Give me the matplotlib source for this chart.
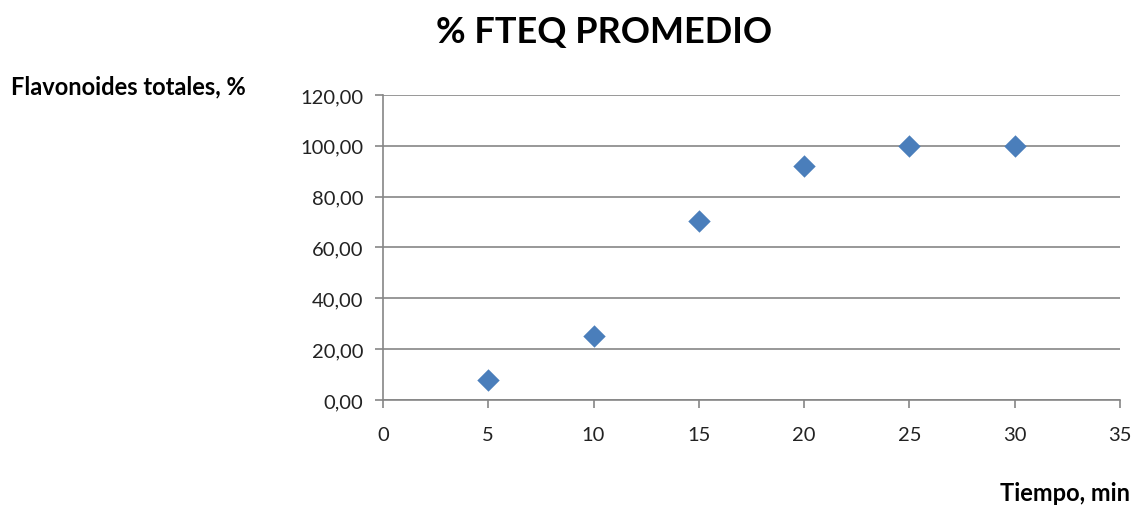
import matplotlib
matplotlib.use("Agg")
import matplotlib.pyplot as plt
from matplotlib.ticker import FuncFormatter

# Data
tiempo = [5, 10, 15, 20, 25, 30]
fteq = [8.0, 25.0, 70.5, 92.0, 100.0, 100.0]
y_ticks = [0, 20, 40, 60, 80, 100, 120]
x_ticks = [0, 5, 10, 15, 20, 25, 30, 35]

plt.rcParams['font.family'] = ['Lato', 'DejaVu Sans']

fig = plt.figure(figsize=(11.35, 5.06), dpi=100)
ax = fig.add_axes([0.3374, 0.2075, 0.6494, 0.6028])

ax.scatter(tiempo, fteq, marker="D", s=130, color="#4A7EBB", zorder=10,
           linewidths=0)

ax.set_xlim(0, 35)
ax.set_ylim(0, 120)
ax.set_xticks(x_ticks)
ax.set_yticks(y_ticks)
ax.yaxis.set_major_formatter(FuncFormatter(lambda v, p: "{0:.2f}".format(v).replace(".", ",")))

ax.grid(axis="y", color="#868686", linewidth=1.2)
ax.set_axisbelow(True)
for s in ["top", "right"]:
    ax.spines[s].set_visible(False)
for s in ["left", "bottom"]:
    ax.spines[s].set_color("#868686")
    ax.spines[s].set_linewidth(1.2)
ax.tick_params(direction="out", length=6, width=1.2, color="#868686",
               labelsize=14.5, labelcolor="#222222")
ax.tick_params(axis="y", pad=8)
ax.tick_params(axis="x", pad=13)

fig.text(0.532, 0.935, "% FTEQ PROMEDIO", ha="center", va="center",
         fontsize=26, fontweight="bold")
fig.text(0.010, 0.828, "Flavonoides totales, %", ha="left", va="center",
         fontsize=17, fontweight="bold")
fig.text(0.996, 0.025, "Tiempo, min", ha="right", va="center",
         fontsize=17, fontweight="bold")

plt.savefig("out.png", dpi=100)
